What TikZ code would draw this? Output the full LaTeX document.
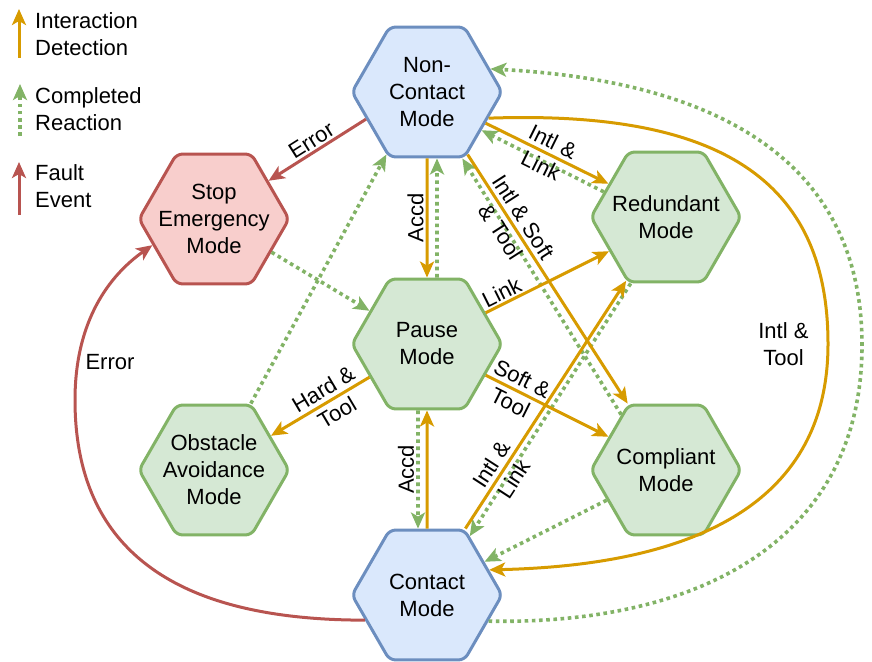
\documentclass[tikz,border=0pt]{standalone}
\usepackage{fontspec}
\setmainfont{Liberation Sans}
\usetikzlibrary{shapes.geometric}
\usetikzlibrary{arrows.meta}

\definecolor{blfill}{HTML}{DAE8FC}
\definecolor{bldraw}{HTML}{6C8EBF}
\definecolor{grfill}{HTML}{D5E8D4}
\definecolor{grdraw}{HTML}{82B366}
\definecolor{rdfill}{HTML}{F8CECC}
\definecolor{rddraw}{HTML}{B85450}
\definecolor{orline}{HTML}{D79B00}

\begin{document}
\begin{tikzpicture}[x=1pt,y=-1pt,font=\fontsize{22}{27}\selectfont]

\tikzset{mode/.style = {shape=regular polygon,regular polygon sides=6,minimum size=150pt,inner sep=-16pt,line width=3pt,rounded corners=6pt,align=center}}
\tikzset{bluehex/.style = {mode,draw=bldraw,fill=blfill}}
\tikzset{greenhex/.style = {mode,draw=grdraw,fill=grfill}}
\tikzset{redhex/.style = {mode,draw=rddraw,fill=rdfill}}
\tikzset{lbl/.style = {inner sep=2pt,align=center}}
\tikzset{detect/.style = {->,> = {Stealth[length=16pt,width=14pt,inset=4pt]},draw=orline,line width=3pt}}
\tikzset{react/.style = {->,> = {Stealth[length=16pt,width=14pt,inset=4pt]},draw=grdraw,line width=3.6pt,dash pattern=on 3.6pt off 3.6pt}}
\tikzset{fault/.style = {->,> = {Stealth[length=16pt,width=14pt,inset=4pt]},draw=rddraw,line width=3pt}}

\useasboundingbox (0,0) rectangle (872,661);

\node[bluehex] (nc) at (427,92) {Non-\\Contact\\Mode};
\node[redhex] (stop) at (214,219) {Stop\\Emergency\\Mode};
\node[greenhex] (red) at (666,217) {Redundant\\Mode};
\node[greenhex] (pause) at (427,344) {Pause\\Mode};
\node[greenhex] (obs) at (214,470) {Obstacle\\Avoidance\\Mode};
\node[greenhex] (comp) at (666,470) {Compliant\\Mode};
\node[bluehex] (con) at (427,595) {Contact\\Mode};

%legend
\coordinate (ia) at (19,58);
\coordinate (ib) at (19,9);
\coordinate (ca) at (20,136);
\coordinate (cb) at (20,84);
\coordinate (fa) at (19,215);
\coordinate (fb) at (19,162);
\draw[detect] (ia) -- (ib);
\draw[react] (ca) -- (cb);
\draw[fault] (fa) -- (fb);
\node[lbl,anchor=west,align=left] (il) at (33,34) {Interaction\\Detection};
\node[lbl,anchor=west,align=left] (cl) at (33,109) {Completed\\Reaction};
\node[lbl,anchor=west,align=left] (fl) at (33,186) {Fault\\Event};

%completed reactions
\draw[react] ([xshift=10pt]pause.north) -- ([xshift=10pt]nc.south);
\draw[react] ([xshift=-9pt]pause.south) -- node[lbl,rotate=90,anchor=south] (a2) {Accd} ([xshift=-9pt]con.north);
\draw[react] (red.158) -- (nc.-35);
\draw[react] (comp.129) -- (nc.-62);
\draw[react] (red.242) -- (con.54);
\draw[react] (comp.207) -- (con.30);
\draw[react] (obs.61) -- (nc.237);
\draw[react] (stop.-30) -- (pause.150);
\draw[react] (con.-23) .. controls (700,625) and (862,540) .. (862,345) .. controls (862,150) and (700,80) .. (nc.20);

%interaction detections
\draw[detect] (nc.south) -- node[lbl,rotate=90,anchor=south] (a1) {Accd} (pause.north);
\draw[detect] (con.north) -- (pause.south);
\draw[detect] (nc.-28) -- node[lbl,sloped] (l1) {Intl \&\\Link} (red.150);
\draw[detect] (nc.-57) -- node[lbl,sloped,pos=0.28] (l2) {Intl \& Soft\\\& Tool} (comp.120);
\draw[detect] (pause.28) -- node[lbl,sloped,above,pos=0.17] (l3) {Link} (red.211);
\draw[detect] (pause.-28) -- node[lbl,sloped,pos=0.25] (l4) {Soft \&\\Tool} (comp.150);
\draw[detect] (pause.210) -- node[lbl,sloped,pos=0.4] (l5) {Hard \&\\Tool} (obs.31);
\draw[detect] (con.60) -- node[lbl,sloped,pos=0.23] (l6) {Intl \&\\Link} (red.238);
\draw[detect] (nc.-23) .. controls (720,110) and (828,180) .. (828,344) node[lbl,left=16pt] (l7) {Intl \&\\Tool} .. controls (828,500) and (700,565) .. (con.22);

%faults
\draw[fault] (nc.204) -- node[lbl,sloped,above] (e1) {Error} (stop.35);
\draw[fault] (con.202) .. controls (220,620) and (75,580) .. (75,400) .. controls (75,320) and (110,275) .. (stop.203);
\node[lbl] (e2) at (110,362) {Error};

\end{tikzpicture}
\end{document}
